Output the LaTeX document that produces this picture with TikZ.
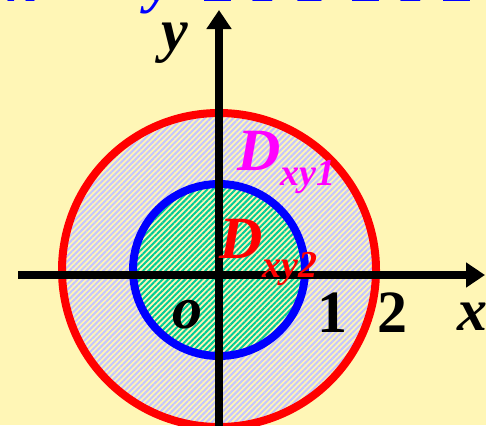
\documentclass[tikz,border=0pt]{standalone}
\usepackage{fontspec}
\setmainfont{Liberation Serif}
\usetikzlibrary{arrows.meta,patterns.meta}
\definecolor{bgyellow}{RGB}{255,246,182}
\definecolor{lav}{RGB}{196,196,255}
\definecolor{stripegreen}{RGB}{0,204,150}
\definecolor{labmagenta}{RGB}{255,0,255}
\definecolor{labred}{RGB}{255,0,0}
\definecolor{labblue}{RGB}{0,0,255}
\begin{document}
\begin{tikzpicture}[x=1bp,y=1bp,
  lab/.style={font=\fontsize{60bp}{60bp}\selectfont\bfseries\itshape, inner sep=0pt},
  num/.style={font=\fontsize{60bp}{60bp}\selectfont\bfseries, inner sep=0pt},
  toptext/.style={font=\fontsize{58bp}{58bp}\selectfont\bfseries\itshape, text=labblue, inner sep=0pt, anchor=base west},
  axis/.style={line width=7.5bp, black, -{Triangle[length=19bp,width=24bp]}},
  ring/.style={line width=8bp},
  stripes/.style={pattern={Lines[angle=45,distance=4bp,line width=2bp]}}]
\useasboundingbox (0,0) rectangle (486,425);
\clip (0,0) rectangle (486,425);
\fill[bgyellow] (0,0) rectangle (486,425);
% regions
\coordinate (O) at (219,155);
\fill[stripes, pattern color=lav] (O) circle[radius=157];
\fill[bgyellow] (O) circle[radius=86];
\fill[stripes, pattern color=stripegreen] (O) circle[radius=86];
\draw[ring, labred] (O) circle[radius=157];
\draw[ring, labblue] (O) circle[radius=86];
% axes
\coordinate (xs) at (18,150);
\coordinate (xe) at (485,150);
\coordinate (ys) at (219,-10);
\coordinate (ye) at (219,415);
\draw[axis] (xs) -- (xe);
\draw[axis] (ys) -- (ye);
% labels
\node[lab, anchor=base, text height=28bp] (ylab) at (175,375) {y};
\node[lab, anchor=base] (olab) at (187,97) {o};
\node[num, anchor=base] (one) at (332,93) {1};
\node[num, anchor=base] (two) at (392,93) {2};
\node[lab, anchor=base] (xlab) at (472,95) {x};
\node[lab, anchor=base west, text=labmagenta] (d1) at (237,255)
  {D\raisebox{-15bp}{\fontsize{38bp}{38bp}\selectfont xy1}};
\node[lab, anchor=base west, text=labred] (d2) at (219,167)
  {D\raisebox{-19bp}{\fontsize{38bp}{38bp}\selectfont xy2}};
% cut-off formula at the top
\node[toptext] (t1) at (8,423) {x²};
\node[toptext] (t2) at (80,423) {+};
\node[toptext] (t3) at (146,423) {y²};
\node[toptext] (t4) at (201,423) {≤};
\node[toptext] (t5) at (254,423) {z};
\node[toptext] (t6) at (298,423) {2};
\node[toptext] (t7) at (349,423) {≤};
\node[toptext] (t8) at (402,423) {z};
\node[toptext] (t9) at (440,423) {≤};
\end{tikzpicture}
\end{document}
